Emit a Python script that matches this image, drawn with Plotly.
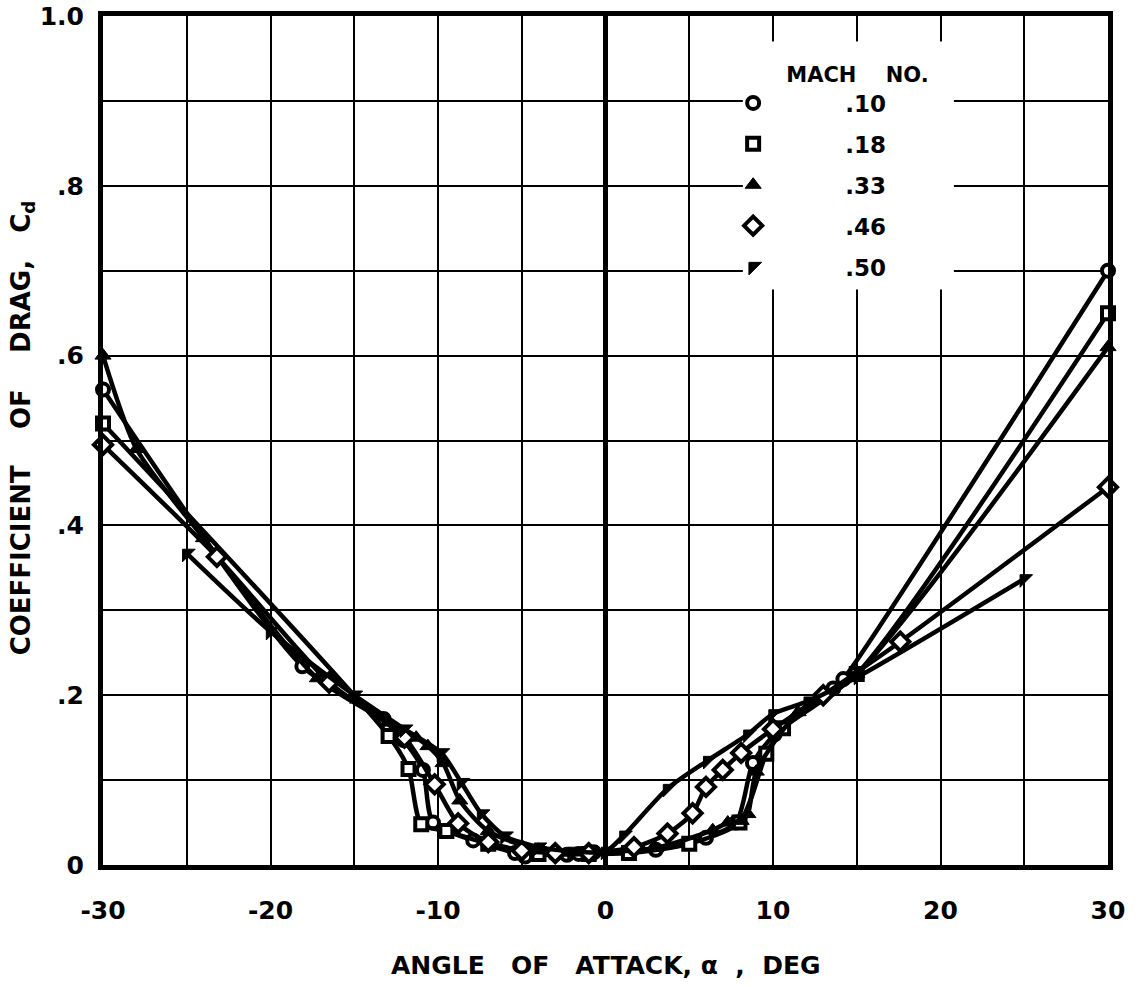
import plotly.graph_objects as go

# Angle of attack (deg) and drag coefficient for each Mach number
ALPHA_M10 = [-30, -18.1, -13.25, -12.05, -10.9, -10.3, -7.9, -5.4, -4.8, -3.0, -2.3, -1.6, -0.7,
             3.0, 6.0, 7.8, 8.8, 10.1, 13.6, 14.2, 30]
CD_M10 = [0.56, 0.234, 0.172, 0.147, 0.112, 0.050, 0.029, 0.014, 0.010, 0.013, 0.012, 0.013, 0.015,
          0.018, 0.032, 0.05, 0.120, 0.154, 0.208, 0.219, 0.70]

ALPHA_M18 = [-30, -12.95, -11.76, -11.0, -9.5, -7.0, -4.0, -1.0, 1.4, 5.0, 8.0, 9.6, 10.6, 15.0, 30]
CD_M18 = [0.52, 0.152, 0.113, 0.048, 0.040, 0.025, 0.013, 0.013, 0.014, 0.025, 0.05, 0.131, 0.161,
          0.225, 0.65]

ALPHA_M33 = [-30, -28, -24, -17.2, -11.3, -10.6, -9.7, -8.7, -7.0, -4.0, -0.5, 3.0, 6.4, 7.3, 8.1,
             8.5, 9.0, 11.5, 15.0, 30]
CD_M33 = [0.60, 0.49, 0.385, 0.22, 0.150, 0.140, 0.120, 0.076, 0.040, 0.018, 0.015, 0.020, 0.041,
          0.050, 0.052, 0.060, 0.110, 0.180, 0.225, 0.61]

ALPHA_M46 = [-30, -23.2, -16.5, -12.0, -10.2, -8.8, -7.0, -5.0, -3.0, -1.0, 1.7, 3.7, 5.2, 6.0, 7.0,
             8.1, 10.0, 13.0, 17.6, 30]
CD_M46 = [0.495, 0.363, 0.215, 0.150, 0.095, 0.049, 0.027, 0.017, 0.014, 0.014, 0.021, 0.037, 0.061,
          0.092, 0.112, 0.132, 0.160, 0.200, 0.263, 0.445]

ALPHA_M50 = [-25, -20, -15, -12, -9.8, -8.6, -7.4, -6.0, -4.0, -2.0, 0.0, 1.1, 3.7, 6.1, 8.5, 10.0,
             12.1, 15.1, 25]
CD_M50 = [0.367, 0.275, 0.200, 0.160, 0.132, 0.097, 0.060, 0.034, 0.021, 0.016, 0.016, 0.035, 0.090,
          0.123, 0.154, 0.178, 0.193, 0.222, 0.337]

MACH_LABELS = [".10", ".18", ".33", ".46", ".50"]

X_TICKS = list(range(-30, 31, 5))
X_TICK_TEXT = ["-30", "", "-20", "", "-10", "", "0", "", "10", "", "20", "", "30"]
Y_TICKS = [i / 10 for i in range(11)]
Y_TICK_TEXT = ["0", "", ".2", "", ".4", "", ".6", "", ".8", "", "1.0"]

FONT = "DejaVu Sans"
NB = "\u00a0"

series = [
    (ALPHA_M10, CD_M10, dict(symbol="circle", color="white", size=12, line=dict(color="black", width=4))),
    (ALPHA_M18, CD_M18, dict(symbol="square", color="white", size=12, line=dict(color="black", width=4))),
    (ALPHA_M33, CD_M33, dict(symbol="triangle-up", color="black", size=14, line=dict(color="black", width=1))),
    (ALPHA_M46, CD_M46, dict(symbol="diamond", color="white", size=14, line=dict(color="black", width=4))),
    (ALPHA_M50, CD_M50, dict(symbol="triangle-nw", color="black", size=14, line=dict(color="black", width=1))),
]

fig = go.Figure()
for (ax, cd, mk), label in zip(series, MACH_LABELS):
    fig.add_trace(go.Scatter(
        x=ax, y=cd, mode="lines+markers",
        line=dict(color="black", width=4.5, shape="spline", smoothing=0.7),
        marker=mk, cliponaxis=False, showlegend=False,
    ))
    # legend entry (marker only)
    fig.add_trace(go.Scatter(
        x=[None], y=[None], mode="markers", marker=mk,
        name=NB * 9 + label + NB * 8, legendgroup=label, showlegend=True,
    ))

# white panel behind the legend, interrupting the grid
fig.add_shape(type="rect", xref="x", yref="y", x0=8.2, x1=20.8, y0=0.678, y1=0.97,
              fillcolor="white", line=dict(width=0), layer="between")

fig.update_layout(
    width=1140, height=987,
    margin=dict(l=103, r=32, t=16, b=122, autoexpand=False),
    paper_bgcolor="white", plot_bgcolor="white",
    font=dict(family=FONT, color="black", size=22, weight="bold"),
    legend=dict(
        x=0.627, y=0.955, xanchor="left", yanchor="top",
        bgcolor="rgba(0,0,0,0)", borderwidth=0,
        font=dict(family=FONT, size=23, color="black", weight="bold"),
        title=dict(text=NB * 7 + "MACH" + NB * 4 + "NO.", font=dict(family=FONT, size=21, weight="bold")),
        itemwidth=30, tracegroupgap=8,
    ),
    xaxis=dict(
        range=[-30, 30], tickvals=X_TICKS, ticktext=X_TICK_TEXT, automargin=False,
        ticklabeloverflow="allow",
        showgrid=True, gridcolor="black", gridwidth=2,
        zeroline=True, zerolinecolor="black", zerolinewidth=5,
        showline=True, linecolor="black", linewidth=5, mirror=True,
        ticks="", ticklabelstandoff=19,
        tickfont=dict(family=FONT, size=25, color="black", weight="bold"),
    ),
    yaxis=dict(
        range=[0, 1.0], tickvals=Y_TICKS, ticktext=Y_TICK_TEXT, automargin=False,
        ticklabeloverflow="allow",
        showgrid=True, gridcolor="black", gridwidth=2,
        zeroline=False,
        showline=True, linecolor="black", linewidth=5, mirror=True,
        ticks="", ticklabelstandoff=9,
        tickfont=dict(family=FONT, size=25, color="black", weight="bold"),
    ),
)

fig.add_annotation(
    text="ANGLE" + NB * 3 + "OF" + NB * 3 + "ATTACK," + NB + "\u03b1" + NB * 2 + "," + NB * 2 + "DEG",
    xref="paper", yref="paper", x=0.5, y=-0.118, xanchor="center", yanchor="middle",
    showarrow=False, font=dict(family=FONT, size=25, color="black", weight="bold"),
)
fig.add_annotation(
    text="COEFFICIENT" + NB * 4 + "OF" + NB * 4 + "DRAG," + NB * 3 + "C<sub>d</sub>",
    xref="paper", yref="paper", x=-0.08, y=0.515, xanchor="center", yanchor="middle",
    textangle=-90, showarrow=False, font=dict(family=FONT, size=26, color="black", weight="bold"),
)

fig.write_html("out.html")
